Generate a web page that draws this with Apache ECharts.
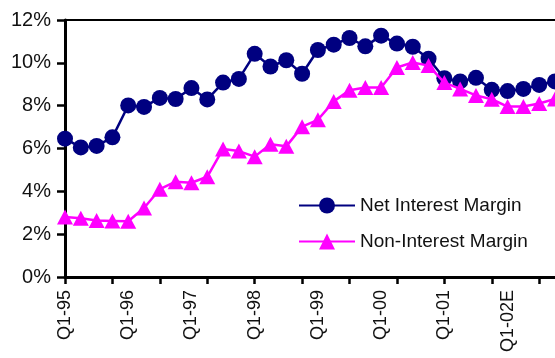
<!DOCTYPE html>
<html>
<head>
<meta charset="utf-8">
<style>
  html, body { margin: 0; padding: 0; background: #fff; }
  #chart { width: 555px; height: 358px; }
</style>
<script src="https://cdn.jsdelivr.net/npm/echarts@6/dist/echarts.min.js"></script>
</head>
<body>
<div id="chart"></div>
<script>
// Quarterly periods (2002 quarters are estimates)
const quarters = [
  'Q1-95','Q2-95','Q3-95','Q4-95',
  'Q1-96','Q2-96','Q3-96','Q4-96',
  'Q1-97','Q2-97','Q3-97','Q4-97',
  'Q1-98','Q2-98','Q3-98','Q4-98',
  'Q1-99','Q2-99','Q3-99','Q4-99',
  'Q1-00','Q2-00','Q3-00','Q4-00',
  'Q1-01','Q2-01','Q3-01','Q4-01',
  'Q1-02E','Q2-02E','Q3-02E','Q4-02E'
];

// Margins, in percent
const netInterestMargin = [
  6.46, 6.05, 6.12, 6.52,
  8.01, 7.94, 8.36, 8.31,
  8.82, 8.29, 9.08, 9.25,
  10.42, 9.83, 10.12, 9.49,
  10.60, 10.85, 11.16, 10.77,
  11.27, 10.90, 10.75, 10.19,
  9.28, 9.13, 9.30, 8.74,
  8.68, 8.78, 8.97, 9.13
];
const nonInterestMargin = [
  2.80, 2.74, 2.64, 2.62,
  2.60, 3.22, 4.10, 4.45,
  4.40, 4.68, 5.98, 5.88,
  5.62, 6.20, 6.10, 7.02,
  7.34, 8.20, 8.72, 8.85,
  8.85, 9.78, 10.02, 9.87,
  9.08, 8.78, 8.48, 8.30,
  7.96, 7.96, 8.10, 8.31
];

const seriesNames = ['Net Interest Margin', 'Non-Interest Margin'];

const FONT = '"Liberation Sans", Arial, sans-serif';
const NAVY = '#000080';
const MAGENTA = '#FF00FF';

const chart = echarts.init(document.getElementById('chart'), null, { renderer: 'canvas' });

chart.setOption({
  animation: false,
  backgroundColor: '#ffffff',
  textStyle: { fontFamily: FONT },
  grid: {
    left: 65,
    right: -2,
    top: 20,
    bottom: 81,
    show: false,
    containLabel: false
  },
  legend: {
    orient: 'vertical',
    left: 293,
    top: 191,
    itemWidth: 56,
    itemHeight: 20,
    itemGap: 17,
    textStyle: { fontFamily: FONT, fontSize: 19, color: '#111' },
    data: seriesNames
  },
  xAxis: [
    {
      type: 'category',
      data: quarters,
      boundaryGap: false,
      axisLine: { lineStyle: { color: '#000', width: 3 } },
      axisTick: {
        show: true,
        interval: 2,
        length: 7,
        lineStyle: { color: '#000', width: 2.5 }
      },
      axisLabel: {
        interval: 3,
        rotate: 90,
        margin: 13,
        fontFamily: FONT,
        fontSize: 18,
        color: '#111'
      },
      splitLine: { show: false }
    },
    {
      // top edge of the plot area
      type: 'category',
      data: quarters,
      position: 'top',
      boundaryGap: false,
      axisLine: { show: true, lineStyle: { color: '#000', width: 2 } },
      axisTick: { show: false },
      axisLabel: { show: false },
      splitLine: { show: false }
    }
  ],
  yAxis: {
    type: 'value',
    min: 0,
    max: 12,
    interval: 2,
    axisLine: { show: true, lineStyle: { color: '#000', width: 3 } },
    axisTick: { show: true, length: 8, lineStyle: { color: '#000', width: 2.5 } },
    axisLabel: {
      formatter: '{value}%',
      margin: 14,
      fontFamily: FONT,
      fontSize: 20,
      color: '#111'
    },
    splitLine: { show: false }
  },
  series: [
    {
      name: seriesNames[0],
      type: 'line',
      data: netInterestMargin,
      symbol: 'circle',
      symbolSize: 16,
      showAllSymbol: true,
      lineStyle: { color: NAVY, width: 2.5 },
      itemStyle: { color: NAVY },
      z: 2
    },
    {
      name: seriesNames[1],
      type: 'line',
      data: nonInterestMargin,
      symbol: 'triangle',
      symbolSize: [16, 15],
      showAllSymbol: true,
      lineStyle: { color: MAGENTA, width: 2.5 },
      itemStyle: { color: MAGENTA },
      z: 3
    }
  ]
});
</script>
</body>
</html>
